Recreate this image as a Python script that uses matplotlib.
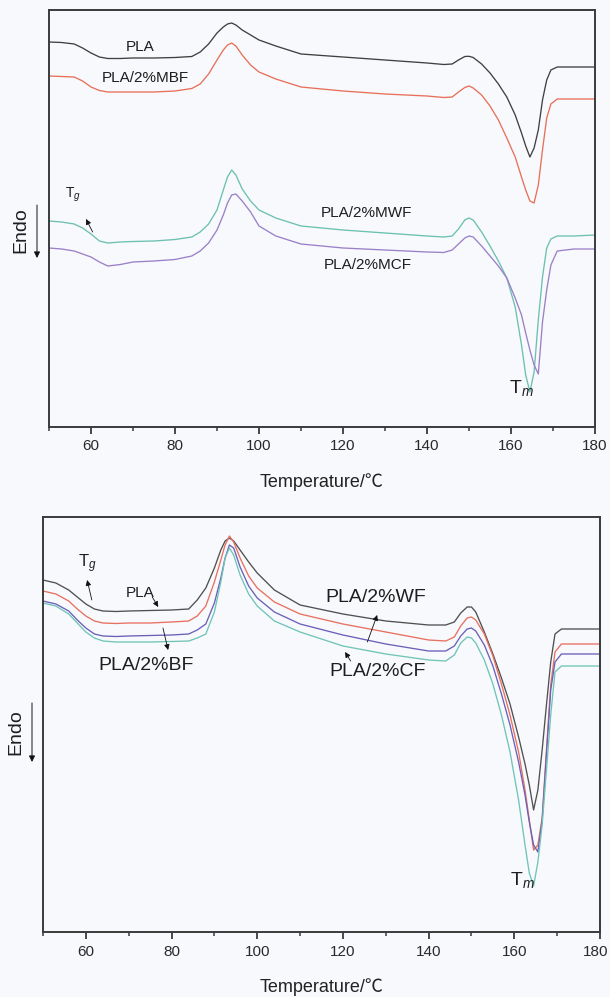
import numpy as np
import matplotlib
matplotlib.use('Agg')
import matplotlib.pyplot as plt
import matplotlib.transforms as mtransforms
from matplotlib.ticker import MultipleLocator, NullLocator

plt.rcParams['font.family'] = ['Liberation Sans', 'Noto Sans CJK SC', 'DejaVu Sans']
plt.rcParams['mathtext.fontset'] = 'custom'
plt.rcParams['mathtext.rm'] = 'Liberation Sans'
plt.rcParams['mathtext.it'] = 'Liberation Sans:italic'

# Temperature grid (°C)
temperature = [50, 53, 56, 58, 60, 62, 64, 67, 70, 75,
               80, 84, 86, 88, 90, 91.5, 92.5, 93.5, 94.5, 96,
               98, 100, 104, 110, 120, 130, 140, 144, 146, 147.5,
               149, 150, 151, 153, 155, 157, 159, 161, 162.5, 163.5,
               164.5, 165.5, 166.5, 167.5, 168.5, 169.5, 171, 175, 180]

# ---- Top panel: endothermic signal (a.u., endo down) ----
top_pla = [42, 42.5, 44, 48, 53, 57, 58.5, 58.5, 58, 58,
           57.5, 56.5, 52, 44, 33, 27, 24, 23, 25, 30,
           35, 40, 46, 54, 57, 60, 63, 64.5, 64, 60,
           56.5, 56.3, 57.5, 64, 73, 84, 97, 115, 133, 146,
           157, 148, 130, 100, 80, 70, 67, 67, 67]
top_mbf = [76, 76.5, 77, 81, 87, 90.5, 92, 92, 92, 92,
           91, 88.5, 84, 74, 60, 50, 45, 43, 46, 55,
           65, 72, 79, 87, 91, 94, 96, 97.5, 97, 92,
           87.5, 86, 88, 95, 106, 120, 138, 157, 177, 190,
           201, 203, 185, 150, 118, 104, 99, 99, 99]
top_mwf = [221, 222, 224, 228, 234, 241, 243, 242, 241.5, 241,
           239.5, 237, 232, 224, 210, 190, 177, 170, 175, 189,
           201, 210, 218, 226, 230, 233, 236, 237, 236, 229,
           220, 218, 220, 232, 246, 261, 278, 307, 345, 375,
           392, 372, 320, 277, 248, 239, 236, 236, 235]
top_mcf = [248, 249, 251, 254, 257, 262, 266, 264.5, 262, 261,
           259.5, 256, 251, 243, 230, 215, 203, 195, 194, 201,
           212, 226, 236, 244, 248, 250, 252, 252.5, 250, 244,
           238, 236, 237, 246, 256, 266, 278, 298, 315, 333,
           350, 365, 374, 322, 290, 265, 251, 249, 249]

# ---- Bottom panel ----
bot_pla = [80, 83, 90, 97, 104, 109, 111, 111.5, 111, 110.5,
           110, 109, 100, 88, 68, 50, 41, 38, 41, 50,
           62, 73, 90, 105, 114, 121, 125, 125, 122, 113,
           107, 107, 112, 132, 154, 178, 204, 237, 264, 285,
           310, 290, 250, 205, 162, 134, 129, 129, 129]
bot_wf = [91, 94, 101, 109, 116, 121, 123, 123.5, 123, 123,
          122, 121, 116, 106, 82, 60, 45, 36, 42, 58,
          76, 88, 102, 114, 124, 132, 140, 141, 137, 126,
          118, 117, 120, 134, 156, 184, 215, 252, 290, 320,
          350, 345, 318, 250, 185, 152, 144, 144, 144]
bot_cf = [101, 104, 111, 120, 128, 134, 136, 136.5, 136, 135.5,
          135, 134, 130, 124, 103, 78, 58, 45, 48, 67,
          86, 98, 112, 124, 135, 144, 151, 151, 146, 136,
          129, 128, 131, 145, 166, 194, 225, 262, 295, 322,
          345, 352, 320, 255, 190, 162, 154, 154, 154]
bot_bf = [103, 106, 114, 123, 132, 138, 141, 142, 142, 142,
          141.5, 141, 138, 134, 112, 82, 58, 48, 55, 75,
          94, 106, 121, 132, 146, 154, 160, 161, 155, 143,
          137, 138, 143, 160, 184, 215, 252, 300, 345, 373,
          386, 362, 325, 270, 215, 172, 166, 166, 166]

xticks_major = 20
xticks_minor = 10
bg = '#f7f9fc'
spine_c = '#3a3a3a'

fig = plt.figure(figsize=(6.1, 9.97), dpi=100, facecolor=bg)
W, H = 610, 997
ax1 = fig.add_axes([49 / W, 1 - 427 / H, 546 / W, 417 / H])
ax2 = fig.add_axes([43 / W, 65 / H, 557 / W, 415 / H])


def style(ax):
    ax.set_facecolor(bg)
    ax.set_xlim(50, 180)
    for s in ax.spines.values():
        s.set_color(spine_c)
        s.set_linewidth(1.4)
    ax.xaxis.set_major_locator(MultipleLocator(xticks_major))
    ax.xaxis.set_minor_locator(MultipleLocator(xticks_minor))
    ax.yaxis.set_major_locator(NullLocator())
    ax.yaxis.set_minor_locator(NullLocator())
    ax.tick_params(axis='x', which='major', direction='out', length=5, width=1.3,
                   colors=spine_c, labelsize=11, pad=4, top=False, labelcolor='#2a2a2a')
    ax.tick_params(axis='x', which='minor', direction='out', length=3, width=1.1,
                   colors=spine_c, top=False)
    ax.set_xlabel('Temperature/℃', fontsize=13, color='#222222', labelpad=14)


style(ax1)
style(ax2)

lw = 0.95
ax1.plot(temperature, top_pla, color='#404040', lw=lw)
ax1.plot(temperature, top_mbf, color='#e8705a', lw=lw)
ax1.plot(temperature, top_mwf, color='#6cc0b0', lw=lw)
ax1.plot(temperature, top_mcf, color='#9b80c8', lw=lw)
ax1.set_ylim(427, 10)

ax2.plot(temperature, bot_pla, color='#505050', lw=lw)
ax2.plot(temperature, bot_wf, color='#e87060', lw=lw)
ax2.plot(temperature, bot_cf, color='#6a60b8', lw=lw)
ax2.plot(temperature, bot_bf, color='#70c4b8', lw=lw)
ax2.set_ylim(432, 17)

tc = '#1e1e1e'
arr = dict(arrowstyle='-|>', color='#111111', lw=0.6, mutation_scale=8,
           shrinkA=0, shrinkB=0)

# top annotations
ax1.text(71.7, 47, 'PLA', ha='center', va='center', fontsize=11, color=tc)
ax1.text(72.9, 78, 'PLA/2%MBF', ha='center', va='center', fontsize=11, color=tc)
ax1.text(125.5, 213, 'PLA/2%MWF', ha='center', va='center', fontsize=11, color=tc)
ax1.text(126, 265, 'PLA/2%MCF', ha='center', va='center', fontsize=11, color=tc)
ax1.text(53.8, 195, 'T$_g$', ha='left', va='center', fontsize=10, color=tc)
ax1.annotate('', xy=(58.8, 219), xytext=(60.4, 232), arrowprops=arr)
ax1.text(159.5, 388, 'T$_m$', ha='left', va='center', fontsize=14, color=tc)

# bottom annotations
ax2.text(72.7, 93, 'PLA', ha='center', va='center', fontsize=11, color=tc)
ax2.annotate('', xy=(76.9, 107), xytext=(75.5, 97), arrowprops=arr)
ax2.text(74.1, 165, 'PLA/2%BF', ha='center', va='center', fontsize=14, color=tc)
ax2.annotate('', xy=(79.2, 150), xytext=(78.0, 128), arrowprops=arr)
ax2.text(127.6, 98, 'PLA/2%WF', ha='center', va='center', fontsize=14, color=tc)
ax2.annotate('', xy=(128.0, 115), xytext=(125.7, 142), arrowprops=arr)
ax2.text(128, 172, 'PLA/2%CF', ha='center', va='center', fontsize=14, color=tc)
ax2.annotate('', xy=(120.5, 152), xytext=(121.8, 161), arrowprops=arr)
ax2.text(58.2, 64, 'T$_g$', ha='left', va='center', fontsize=12, color=tc)
ax2.annotate('', xy=(60.3, 80), xytext=(61.4, 100), arrowprops=arr)
ax2.text(158.9, 380, 'T$_m$', ha='left', va='center', fontsize=14, color=tc)

# Endo labels with downward arrows
fig.text(21 / W, 1 - 230 / H, 'Endo', rotation=90, ha='center', va='center',
         fontsize=14, color=tc)
fig.text(16 / W, 1 - 732 / H, 'Endo', rotation=90, ha='center', va='center',
         fontsize=14, color=tc)
endo_arr = dict(arrowstyle='-|>', color='#111111', lw=0.7, mutation_scale=9,
                shrinkA=0, shrinkB=0)
fig.add_artist(matplotlib.patches.FancyArrowPatch((37 / W, 1 - 205 / H), (37 / W, 1 - 258 / H),
                                                  transform=fig.transFigure, **endo_arr))
fig.add_artist(matplotlib.patches.FancyArrowPatch((32 / W, 1 - 703 / H), (32 / W, 1 - 762 / H),
                                                  transform=fig.transFigure, **endo_arr))

# keep the right-most bottom tick label just inside the figure edge
fig.canvas.draw()
last_lbl = ax2.xaxis.get_major_ticks()[-1].label1
for tk in ax2.xaxis.get_major_ticks():
    if tk.label1.get_text() == '180':
        last_lbl = tk.label1
last_lbl.set_transform(last_lbl.get_transform() +
                       mtransforms.ScaledTranslation(-4 / 100, 0, fig.dpi_scale_trans))

fig.savefig('out.png', dpi=100, facecolor=bg)
